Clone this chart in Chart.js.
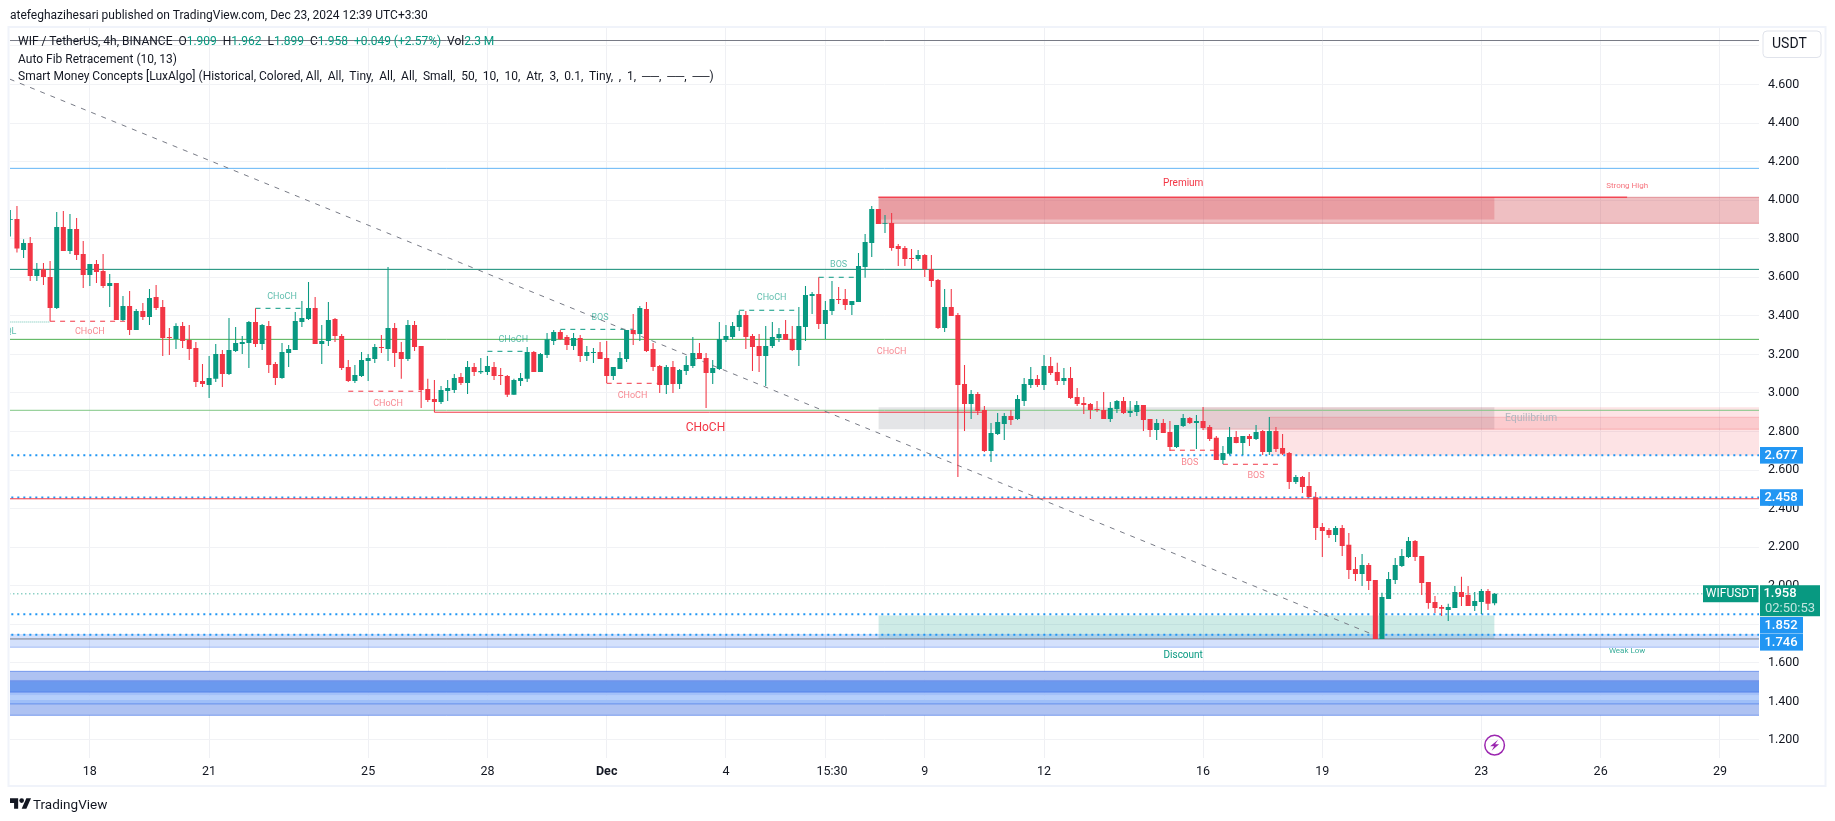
<!DOCTYPE html>
<html lang="en">
<head>
  <meta charset="UTF-8">
  <title>WIF / TetherUS 4h</title>
  <script src="https://cdn.jsdelivr.net/npm/chart.js"></script>
  <style>
    html, body { margin: 0; padding: 0; background: #ffffff; overflow: hidden; }
    body { width: 1835px; height: 821px; position: relative; font-family: Roboto, Arial, sans-serif; color: #131722; }
    canvas { position: absolute; left: 0; top: 0; }
    .txt { position: absolute; white-space: pre; font-size: 12px; line-height: 16px; }
    .up { color: #089981; }
    #logo { position: absolute; left: 10px; top: 797px; }
  </style>
</head>
<body>

<canvas id="grafico" width="1835" height="821"></canvas>

<div class="txt" style="left:10px;top:7px">atefeghazihesari published on TradingView.com, Dec 23, 2024 12:39 UTC+3:30</div>
<div class="txt" style="left:18px;top:33px">WIF / TetherUS, 4h, BINANCE  O<span class="up">1.909</span>  H<span class="up">1.962</span>  L<span class="up">1.899</span>  C<span class="up">1.958</span>  <span class="up">+0.049 (+2.57%)</span>  Vol<span class="up">2.3 M</span></div>
<div class="txt" style="left:18px;top:51px">Auto Fib Retracement (10, 13)</div>
<div class="txt" style="left:18px;top:68px">Smart Money Concepts [LuxAlgo] (Historical, Colored, <span style="word-spacing:2.85px">All, All, Tiny, All, All, Small, 50, 10, 10, Atr, 3, 0.1, Tiny, , 1, ──, ──, ──)</span></div>

<svg id="logo" width="21" height="13" viewBox="0 0 36 22" fill="#131722"><path d="M14 2H0v8h7v10h7z"/><circle cx="20" cy="6" r="4"/><path d="M28 2h8l-8 18h-8z"/></svg>
<div class="txt" style="left:33px;top:796px;font-size:13.5px">TradingView</div>

<script>
// candles start 12 bars before the "18" tick, one value per 4h bar
const opens = [3.897,3.902,3.742,3.778,3.607,3.641,3.602,3.441,3.861,3.736,3.851,3.721,
  3.612,3.669,3.633,3.555,3.570,3.379,3.451,3.327,3.425,3.394,3.498,3.446,3.290,3.280,3.347,3.275,3.233,3.062,
  3.041,3.073,3.202,3.098,3.218,3.254,3.259,3.368,3.254,3.347,3.150,3.078,3.207,3.223,3.368,3.384,3.441,3.254,3.270,3.384,
  3.296,3.135,3.062,3.088,3.166,3.176,3.238,3.228,3.337,3.213,3.176,3.353,3.244,3.021,2.969,2.953,3.010,3.015,3.083,3.052,
  3.135,3.107,3.109,3.135,3.093,3.088,2.990,3.062,3.073,3.213,3.109,3.197,3.270,3.316,3.290,3.244,3.285,3.192,3.207,3.213,
  3.181,3.088,3.124,3.176,3.327,3.306,3.436,3.228,3.140,3.041,3.135,3.047,3.114,3.140,3.207,3.181,3.104,3.124,3.275,3.290,
  3.342,3.404,3.296,3.244,3.192,3.244,3.285,3.306,3.280,3.223,3.342,3.503,3.513,3.358,3.425,3.487,3.487,3.456,3.472,3.653,
  3.778,3.954,3.877,3.882,3.762,3.752,3.700,3.695,3.716,3.641,3.586,3.337,3.446,3.404,3.047,2.943,2.995,2.912,2.699,2.787,
  2.839,2.881,2.865,2.958,3.041,3.072,3.041,3.140,3.109,3.062,3.078,2.979,2.948,2.943,2.917,2.912,2.865,2.917,2.958,2.896,
  2.901,2.938,2.865,2.808,2.844,2.798,2.720,2.829,2.870,2.844,2.855,2.824,2.767,2.652,2.684,2.772,2.741,2.777,2.761,2.803,
  2.694,2.803,2.715,2.689,2.538,2.564,2.517,2.459,2.305,2.289,2.263,2.300,2.212,2.087,2.061,2.108,2.030,1.724,1.931,2.030,
  2.103,2.149,2.232,2.154,2.020,1.916,1.890,1.874,1.885,1.968,1.952,1.895,1.916,1.973,1.909];
const highs = [3.949,3.970,3.797,3.809,3.674,3.674,3.685,3.939,3.944,3.928,3.908,3.788,
  3.669,3.690,3.721,3.617,3.570,3.503,3.529,3.436,3.467,3.539,3.560,3.482,3.337,3.361,3.368,3.353,3.264,3.150,
  3.192,3.254,3.223,3.389,3.342,3.295,3.373,3.439,3.358,3.373,3.161,3.259,3.249,3.420,3.477,3.576,3.498,3.353,3.472,3.389,
  3.306,3.171,3.145,3.213,3.202,3.254,3.301,3.653,3.363,3.264,3.379,3.373,3.244,3.073,3.067,3.036,3.067,3.098,3.104,3.166,
  3.155,3.181,3.192,3.161,3.130,3.093,3.073,3.104,3.238,3.218,3.207,3.311,3.327,3.327,3.301,3.311,3.301,3.244,3.233,3.264,
  3.270,3.135,3.213,3.327,3.410,3.451,3.472,3.259,3.145,3.145,3.166,3.124,3.192,3.290,3.259,3.207,3.171,3.368,3.353,3.368,
  3.425,3.425,3.306,3.306,3.347,3.368,3.337,3.379,3.347,3.446,3.555,3.524,3.600,3.477,3.581,3.550,3.539,3.477,3.726,3.825,
  3.970,3.954,3.923,3.934,3.773,3.762,3.747,3.742,3.721,3.716,3.591,3.539,3.539,3.415,3.145,3.015,3.005,2.932,2.844,2.896,
  2.896,2.912,2.989,3.078,3.135,3.093,3.197,3.187,3.156,3.130,3.135,3.026,2.979,2.948,2.958,3.005,2.953,2.964,2.979,2.958,
  2.958,2.938,2.865,2.865,2.865,2.855,2.834,2.891,2.875,2.886,2.927,2.834,2.777,2.725,2.824,2.803,2.777,2.787,2.834,2.808,
  2.875,2.824,2.787,2.694,2.575,2.569,2.590,2.486,2.326,2.300,2.310,2.315,2.274,2.149,2.165,2.118,2.030,1.963,2.071,2.144,
  2.191,2.253,2.237,2.154,2.020,1.947,1.900,1.906,1.999,2.046,1.999,1.968,1.983,1.983,1.962];
const lows = [3.811,3.728,3.700,3.581,3.581,3.560,3.372,3.436,3.736,3.721,3.690,3.545,
  3.555,3.570,3.545,3.446,3.379,3.373,3.301,3.327,3.379,3.353,3.430,3.192,3.197,3.228,3.233,3.171,3.031,3.031,
  2.974,3.057,3.031,3.093,3.213,3.202,3.130,3.238,3.223,3.104,3.041,3.073,3.135,3.223,3.342,3.379,3.254,3.150,3.244,3.264,
  3.119,3.057,3.052,3.083,3.062,3.155,3.207,3.166,3.135,3.073,3.166,3.218,2.922,2.953,2.900,2.943,2.958,3.000,3.041,2.995,
  3.088,3.098,3.093,3.067,3.041,2.979,2.990,3.036,3.057,3.109,3.109,3.181,3.249,3.275,3.223,3.223,3.161,3.166,3.155,3.176,
  3.052,3.067,3.124,3.161,3.249,3.270,3.213,3.114,3.000,2.995,3.000,3.021,3.093,3.130,3.176,2.922,3.047,3.119,3.264,3.280,
  3.321,3.228,3.114,3.109,3.036,3.233,3.264,3.275,3.218,3.140,3.270,3.410,3.332,3.280,3.404,3.462,3.430,3.404,3.472,3.598,
  3.705,3.876,3.830,3.737,3.659,3.659,3.641,3.685,3.602,3.550,3.332,3.316,3.399,2.564,2.803,2.865,2.886,2.694,2.642,2.782,
  2.756,2.834,2.860,2.932,3.026,3.031,3.015,3.093,3.041,3.041,2.969,2.932,2.891,2.865,2.901,2.865,2.849,2.896,2.891,2.875,
  2.881,2.803,2.772,2.756,2.792,2.699,2.715,2.824,2.839,2.709,2.808,2.751,2.652,2.632,2.678,2.739,2.678,2.725,2.756,2.678,
  2.678,2.694,2.678,2.502,2.528,2.481,2.459,2.237,2.149,2.248,2.227,2.154,2.035,2.025,1.999,1.978,1.724,1.724,1.931,2.009,
  2.097,2.144,2.128,1.952,1.880,1.859,1.843,1.817,1.885,1.895,1.895,1.869,1.854,1.874,1.899];
const closes = [3.901,3.749,3.778,3.607,3.641,3.602,3.441,3.861,3.736,3.851,3.716,3.612,
  3.669,3.628,3.555,3.570,3.379,3.451,3.327,3.425,3.394,3.493,3.441,3.285,3.285,3.347,3.270,3.228,3.057,3.047,
  3.078,3.202,3.098,3.223,3.259,3.264,3.368,3.254,3.353,3.145,3.078,3.213,3.228,3.373,3.389,3.441,3.254,3.270,3.379,3.296,
  3.130,3.062,3.093,3.171,3.181,3.238,3.233,3.337,3.207,3.176,3.353,3.238,3.015,2.964,2.953,3.015,3.026,3.078,3.052,3.135,
  3.109,3.114,3.140,3.088,3.088,2.990,3.067,3.078,3.213,3.109,3.202,3.278,3.316,3.278,3.249,3.285,3.192,3.213,3.213,3.176,
  3.088,3.135,3.181,3.327,3.306,3.441,3.218,3.135,3.041,3.135,3.047,3.119,3.145,3.207,3.176,3.104,3.130,3.280,3.296,3.347,
  3.404,3.290,3.238,3.192,3.244,3.290,3.306,3.275,3.223,3.347,3.508,3.513,3.358,3.430,3.487,3.482,3.456,3.477,3.659,3.783,
  3.954,3.876,3.882,3.752,3.747,3.695,3.695,3.716,3.641,3.581,3.337,3.446,3.399,3.041,2.943,2.995,2.907,2.699,2.792,2.849,
  2.881,2.860,2.969,3.047,3.072,3.041,3.140,3.104,3.062,3.078,2.974,2.943,2.938,2.912,2.912,2.865,2.922,2.958,2.896,2.906,
  2.938,2.860,2.808,2.844,2.792,2.720,2.834,2.870,2.844,2.855,2.818,2.761,2.652,2.689,2.772,2.741,2.777,2.761,2.798,2.694,
  2.803,2.709,2.684,2.538,2.564,2.512,2.460,2.300,2.284,2.263,2.300,2.206,2.082,2.061,2.108,2.025,1.724,1.942,2.035,2.108,
  2.154,2.232,2.149,2.014,1.911,1.885,1.880,1.890,1.968,1.942,1.895,1.921,1.973,1.906,1.958];
const firstBar = -12;

// axis ticks: position in bars from the "18" tick, then the text
// the 15:30 label sits one bar right of its grid line, so 111 is grid only and 112 is label only
const xTickBars = [0, 18, 42, 60, 78, 96, 111, 112, 126, 144, 168, 186, 210, 228, 246];
const xTickLabels = ['18', '21', '25', '28', 'Dec', '4', '', '15:30', '9', '12', '16', '19', '23', '26', '29'];
const yTicks = [1.2, 1.4, 1.6, 1.8, 2.0, 2.2, 2.4, 2.6, 2.8, 3.0, 3.2, 3.4, 3.6, 3.8, 4.0, 4.2, 4.4, 4.6, 4.8];

// full width levels
const fibTop = 4.828, fibBlue = 4.165, fibTeal = 3.641, fibGreen = 3.278, fibLight = 2.910, fibLow = 1.724;
const dottedLevels = [2.677, 2.458, 1.852, 1.746];
const lastPrice = 1.958;
const chochLevel = 2.900, chochFrom = 52, chochTo = 135;
const lowerRed = 2.451;

// dashed structure lines
const bullFrom = [25, 60, 71, 98, 110];
const bullTo = [32.5, 66, 82, 107, 116];
const bullPrice = [3.439, 3.216, 3.330, 3.429, 3.600];
const bearFrom = [-6, 39, 78, 163, 171];
const bearTo = [5.6, 50, 86, 170, 180];
const bearPrice = [3.372, 3.009, 3.050, 2.703, 2.630];
const eqlFrom = -12, eqlTo = -6, eqlPrice = 3.368;

// diagonal from the fib tool
const trendBars = [-12.1, 194];
const trendPrices = [4.628, 1.742];

// zones: bars and price edges
const premiumFrom = 119, zoneEnd = 212, chartEnd = 260;
const premiumTop = 4.015, premiumBottom = 3.880, premiumInner = 3.900;
const equilFrom = 168, equilFrom2 = 178;
const equilTop = 2.926, equilMid = 2.812, equilTop2 = 2.874, equilBottom2 = 2.675;
const discountTop = 1.845, discountBottom = 1.724;
const lowBandTop = 1.750, lowBandBottom = 1.681;
// blue bands at the bottom, top to bottom
const bandTops = [1.556, 1.515, 1.505, 1.448, 1.429, 1.411, 1.387];
const bandBottoms = [1.515, 1.505, 1.448, 1.429, 1.411, 1.387, 1.328];

// small labels on the chart
const bullLabels = ['CHoCH', 'CHoCH', 'BOS', 'CHoCH', 'BOS'];
const bullLabelBars = [29, 63.9, 77, 102.9, 113];
const bullLabelPrices = [3.501, 3.278, 3.391, 3.496, 3.666];
const bearLabels = ['CHoCH', 'CHoCH', 'CHoCH', 'CHoCH', 'BOS', 'BOS'];
const bearLabelBars = [0, 45, 81.9, 121, 166, 176];
const bearLabelPrices = [3.315, 2.946, 2.986, 3.216, 2.639, 2.573];

const red = '#f23645', green = '#089981', blue = '#2196f3';
const bandColors = ['#aec2f2', '#8fabee', '#6b99ee', '#a3c1f9', '#b5cffb', '#9fbff8', '#aec2f2'];

function hline(from, to, price, color, width, dash) {
  return {
    type: 'line',
    data: [{x: from, y: price}, {x: to, y: price}],
    borderColor: color, borderWidth: width, borderDash: dash || [],
    pointRadius: 0, fill: false, order: 5
  };
}

function zone(from, to, top, bottom, color, order) {
  return {
    type: 'line',
    data: [{x: from, y: top}, {x: to, y: top}],
    borderColor: 'rgba(0,0,0,0)', borderWidth: 0, backgroundColor: color,
    pointRadius: 0, fill: {value: bottom}, order: order || 10
  };
}

const bars = opens.map((_, k) => k + firstBar);
const candleColors = opens.map((o, k) => closes[k] >= o ? green : red);

const datasets = [];

// zones go in first so they sit under everything
datasets.push(zone(premiumFrom, chartEnd, premiumTop, premiumBottom, 'rgba(205,60,70,0.33)'));
datasets.push(zone(premiumFrom, zoneEnd, premiumTop, premiumInner, 'rgba(225,60,70,0.25)'));
datasets.push(zone(equilFrom, chartEnd, equilTop, equilMid, 'rgba(242,54,69,0.14)'));
datasets.push(zone(equilFrom2, chartEnd, equilTop2, equilBottom2, 'rgba(242,54,69,0.14)'));
datasets.push(zone(premiumFrom, zoneEnd, equilTop, equilMid, 'rgba(120,123,134,0.2)'));
datasets.push(zone(-20, chartEnd, lowBandTop, lowBandBottom, 'rgba(60,120,240,0.22)'));
datasets.push(zone(premiumFrom, zoneEnd, discountTop, discountBottom, 'rgba(8,153,129,0.2)'));
bandTops.forEach((t, k) => datasets.push(zone(-20, chartEnd, t, bandBottoms[k], bandColors[k])));

// zone edges
datasets.push(hline(premiumFrom, 232, premiumTop, 'rgba(242,54,69,0.9)', 1.5));
datasets.push(hline(232, chartEnd, premiumTop, 'rgba(205,60,70,0.45)', 1));
datasets.push(hline(premiumFrom, chartEnd, premiumBottom, 'rgba(205,60,70,0.45)', 1));
datasets.push(hline(equilFrom, chartEnd, equilMid, 'rgba(242,54,69,0.25)', 1));
datasets.push(hline(equilFrom2, chartEnd, equilTop2, 'rgba(242,54,69,0.2)', 1));
datasets.push(hline(-20, chartEnd, lowBandBottom, 'rgba(80,130,240,0.45)', 1));
[1.556, 1.505, 1.448, 1.387, 1.328].forEach(t => datasets.push(hline(-20, chartEnd, t, 'rgba(60,110,230,0.6)', 1)));

// fib levels
datasets.push(hline(-20, chartEnd, fibTop, '#787b86', 1));
datasets.push(hline(-20, chartEnd, fibBlue, '#64b5f6', 1));
datasets.push(hline(-20, chartEnd, fibTeal, '#0d8a73', 1));
datasets.push(hline(-20, chartEnd, fibGreen, '#4caf50', 1));
datasets.push(hline(-20, chartEnd, fibLight, '#81c784', 1));
datasets.push(hline(-20, chartEnd, fibLow, '#787b86', 1));
datasets.push(hline(-20, chartEnd, lowerRed, red, 1));
datasets.push(hline(chochFrom, chochTo, chochLevel, red, 1));
datasets.push(hline(-20, chartEnd, lastPrice, green, 1, [1, 3]));
dottedLevels.forEach(p => datasets.push(hline(-20, chartEnd, p, blue, 2, [2, 4])));

bullFrom.forEach((f, k) => datasets.push(hline(f, bullTo[k], bullPrice[k], green, 1, [5, 5])));
bearFrom.forEach((f, k) => datasets.push(hline(f, bearTo[k], bearPrice[k], red, 1, [5, 5])));
datasets.push(hline(eqlFrom, eqlTo, eqlPrice, 'rgba(8,153,129,0.6)', 1, [1, 1]));

datasets.push({
  type: 'line',
  data: trendBars.map((b, k) => ({x: b, y: trendPrices[k]})),
  borderColor: '#787b86', borderWidth: 1, borderDash: [5, 6],
  pointRadius: 0, fill: false, order: 4
});

// wicks and bodies, both floating bars
datasets.push({
  type: 'bar',
  data: bars.map((b, k) => ({x: b, y: [lows[k], highs[k]]})),
  backgroundColor: candleColors, grouped: false,
  barPercentage: 0.16, categoryPercentage: 1, order: 2
});
datasets.push({
  type: 'bar',
  data: bars.map((b, k) => ({x: b, y: [Math.min(opens[k], closes[k]), Math.max(opens[k], closes[k])]})),
  backgroundColor: candleColors, grouped: false,
  barPercentage: 0.76, categoryPercentage: 1, order: 1
});

const overlays = {
  id: 'overlays',
  beforeDraw(chart) {
    const c = chart.ctx;
    c.save();
    c.fillStyle = '#ffffff';
    c.fillRect(0, 0, chart.width, chart.height);
    c.restore();
  },
  afterDatasetsDraw(chart) {
    const c = chart.ctx, x = chart.scales.x, y = chart.scales.y, a = chart.chartArea;
    c.save();
    c.beginPath();
    c.rect(a.left, a.top, a.right - a.left, a.bottom - a.top);
    c.clip();
    c.textAlign = 'center';
    c.textBaseline = 'middle';

    function put(text, bar, price, font, color) {
      c.font = font + ' Roboto, Arial, sans-serif';
      c.fillStyle = color;
      c.fillText(text, x.getPixelForValue(bar), y.getPixelForValue(price));
    }
    bullLabels.forEach((t, k) => put(t, bullLabelBars[k], bullLabelPrices[k], '9px', 'rgba(8,153,129,0.65)'));
    bearLabels.forEach((t, k) => put(t, bearLabelBars[k], bearLabelPrices[k], '9px', 'rgba(242,54,69,0.6)'));
    put('EQL', -12.3, 3.315, '9px', 'rgba(8,153,129,0.65)');
    put('CHoCH', 92.9, 2.820, '12px', red);
    put('Premium', 165, 4.085, '10px', red);
    put('Strong High', 232, 4.076, '8px', 'rgba(242,54,69,0.7)');
    put('Discount', 165, 1.640, '10px', green);
    put('Weak Low', 232, 1.664, '8px', 'rgba(8,153,129,0.8)');
    put('Equilibrium', 217.5, 2.870, '10.5px', '#b2b5be');

    // lightning mark on the last bars
    const mx = x.getPixelForValue(212), my = y.getPixelForValue(1.173);
    c.strokeStyle = '#9c27b0';
    c.lineWidth = 1.5;
    c.beginPath();
    c.arc(mx, my, 9.8, 0, Math.PI * 2);
    c.stroke();
    c.fillStyle = '#9c27b0';
    c.beginPath();
    c.moveTo(mx + 3.5, my - 5.5);
    c.lineTo(mx - 4.5, my + 1);
    c.lineTo(mx - 0.5, my + 1);
    c.lineTo(mx - 3, my + 5.5);
    c.lineTo(mx + 4.5, my - 1);
    c.lineTo(mx + 0.5, my - 1);
    c.closePath();
    c.fill();
    c.restore();
  },
  afterDraw(chart) {
    const c = chart.ctx, y = chart.scales.y, a = chart.chartArea;
    c.save();
    // frame
    c.strokeStyle = '#f0f3fa';
    c.lineWidth = 2;
    c.strokeRect(8.5, 27, 1817, 759);

    // USDT button
    c.fillStyle = '#ffffff';
    c.strokeStyle = '#e0e3eb';
    c.lineWidth = 1;
    c.beginPath();
    c.roundRect(1763, 31, 58, 26.5, 4);
    c.fill();
    c.stroke();
    c.fillStyle = '#131722';
    c.font = '14px Roboto, Arial, sans-serif';
    c.textAlign = 'left';
    c.textBaseline = 'middle';
    c.fillText('USDT', 1772, 44.5);

    // price tags on the axis
    c.font = '500 13px Roboto, Arial, sans-serif';
    dottedLevels.forEach(p => {
      const py = y.getPixelForValue(p);
      const top = p === 1.746 ? 634 : p === 1.852 ? 617 : py - 8.2;
      c.fillStyle = blue;
      c.fillRect(a.right + 1, top, 43, 16.6);
      c.fillStyle = '#ffffff';
      c.textAlign = 'center';
      c.fillText(p.toFixed(3), a.right + 22, top + 8.6);
    });

    const ly = y.getPixelForValue(lastPrice);
    c.fillStyle = green;
    c.fillRect(a.right + 1, ly - 8.6, 60, 31);
    c.fillRect(a.right - 56, ly - 8.6, 55.5, 17);
    c.textAlign = 'center';
    c.fillStyle = '#ffffff';
    c.fillText(lastPrice.toFixed(3), a.right + 21, ly);
    c.font = '12px Roboto, Arial, sans-serif';
    c.fillText('WIFUSDT', a.right - 28, ly);
    c.font = '13px Roboto, Arial, sans-serif';
    c.fillStyle = 'rgba(255,255,255,0.75)';
    c.fillText('02:50:53', a.right + 31, ly + 14.5);
    c.restore();
  }
};

new Chart(document.getElementById('grafico').getContext('2d'), {
  data: {datasets},
  options: {
    responsive: false,
    animation: false,
    events: [],
    layout: {padding: {left: 10, top: 28, right: 0, bottom: 35}},
    plugins: {legend: {display: false}, tooltip: {enabled: false}},
    scales: {
      x: {
        type: 'linear',
        offset: false,
        min: -12.05,
        max: 251.9,
        afterBuildTicks(axis) { axis.ticks = xTickBars.map(v => ({value: v})); },
        afterFit(axis) { axis.height = 28.3; },
        grid: {
          color(ctx) { return ctx.tick && ctx.tick.value === 112 ? 'rgba(0,0,0,0)' : '#eff0f4'; },
          drawTicks: false,
          offset: false
        },
        border: {display: false},
        ticks: {
          autoSkip: false,
          maxRotation: 0,
          padding: 7,
          color: '#131722',
          font(ctx) {
            const isMonth = ctx.tick && xTickLabels[xTickBars.indexOf(ctx.tick.value)] === 'Dec';
            return {family: 'Roboto, Arial, sans-serif', size: 12.5, weight: isMonth ? 'bold' : 'normal'};
          },
          callback(v) { return xTickLabels[xTickBars.indexOf(v)]; }
        }
      },
      y: {
        position: 'right',
        min: 1.108,
        max: 4.893,
        afterBuildTicks(axis) { axis.ticks = yTicks.map(v => ({value: v})); },
        afterFit(axis) { axis.width = 76; },
        grid: {color: '#f1f2f5', drawTicks: false},
        border: {display: false},
        ticks: {
          autoSkip: false,
          padding: 9,
          color: '#131722',
          font: {family: 'Roboto, Arial, sans-serif', size: 12.5},
          callback(v) { return v > 4.7 ? '' : v.toFixed(3); }
        }
      }
    }
  },
  plugins: [overlays]
});
</script>

</body>
</html>
